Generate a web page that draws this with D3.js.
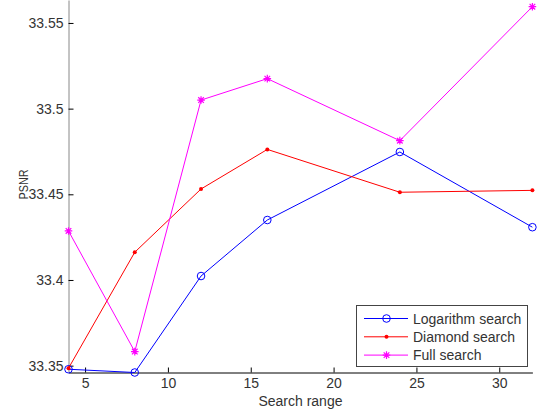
<!DOCTYPE html>
<html>
<head>
<meta charset="utf-8">
<script src="https://cdn.jsdelivr.net/npm/d3@7"></script>
<style>
  body { margin: 0; background: #fff; }
  svg { display: block; font-family: "Liberation Sans", Arial, sans-serif; }
</style>
</head>
<body>
<div id="chart"></div>
<script>
// search range (x) and PSNR per method
var ranges = [4, 8, 12, 16, 24, 32]
var logSearch = [33.3479, 33.3460, 33.4023, 33.4350, 33.4747, 33.4308]
var diamondSearch = [33.3485, 33.4162, 33.4531, 33.4762, 33.4512, 33.4523]
var fullSearch = [33.4286, 33.3582, 33.5050, 33.5175, 33.4813, 33.5595]
var xTicks = [5, 10, 15, 20, 25, 30]
var yTicks = [33.35, 33.4, 33.45, 33.5, 33.55]
var seriesNames = ["Logarithm search", "Diamond search", "Full search"]

var width = 539, height = 416
var margin = {left: 68.5, right: 6.6, top: 0, bottom: 43.5}

var svg = d3.select("#chart").append("svg")
  .attr("width", width)
  .attr("height", height)

var x = d3.scaleLinear().domain([4, 32]).range([margin.left, width - margin.right])
var y = d3.scaleLinear().domain([33.346, 33.5634]).range([height - margin.bottom, margin.top])

var series = [
  {name: seriesNames[0], values: logSearch, color: "#0000ff", marker: "circle"},
  {name: seriesNames[1], values: diamondSearch, color: "#ff0000", marker: "dot"},
  {name: seriesNames[2], values: fullSearch, color: "#ff00ff", marker: "star"}
]

function drawMarker(g, type, color, cx, cy) {
  if (type == "circle") {
    g.append("circle").attr("cx", cx).attr("cy", cy).attr("r", 3.8)
      .attr("fill", "none").attr("stroke", color).attr("stroke-width", 1)
  } else if (type == "dot") {
    g.append("circle").attr("cx", cx).attr("cy", cy).attr("r", 2)
      .attr("fill", color)
  } else {
    var s = 3.8, d = 2.8
    var p = "M" + (cx - s) + "," + cy + "H" + (cx + s) +
      "M" + cx + "," + (cy - s) + "V" + (cy + s) +
      "M" + (cx - d) + "," + (cy - d) + "L" + (cx + d) + "," + (cy + d) +
      "M" + (cx - d) + "," + (cy + d) + "L" + (cx + d) + "," + (cy - d)
    g.append("path").attr("d", p).attr("stroke", color).attr("stroke-width", 1.2).attr("fill", "none")
  }
}

// axes
var xAxis = svg.append("g")
  .attr("transform", "translate(0," + (height - margin.bottom) + ")")
  .call(d3.axisBottom(x).tickValues(xTicks).tickSizeInner(-5).tickSizeOuter(0).tickPadding(6)
    .tickFormat(d3.format("d")))
xAxis.select(".domain").attr("stroke", "#000")
xAxis.selectAll(".tick line").attr("stroke", "#000")
xAxis.selectAll("text").attr("font-size", 14).attr("fill", "#333").attr("font-family", null)

var yAxis = svg.append("g")
  .attr("transform", "translate(" + margin.left + ",0)")
  .call(d3.axisLeft(y).tickValues(yTicks).tickSizeInner(-5).tickSizeOuter(0).tickPadding(5)
    .tickFormat(function(d) { return String(+d.toFixed(2)) }))
yAxis.select(".domain").attr("stroke", "#888")
yAxis.selectAll(".tick line").attr("stroke", "#000")
yAxis.selectAll("text").attr("font-size", 14).attr("fill", "#333").attr("font-family", null)

svg.append("text")
  .attr("x", (x(4) + x(32)) / 2).attr("y", 406)
  .attr("text-anchor", "middle").attr("font-size", 14).attr("fill", "#333")
  .text("Search range")

svg.append("text")
  .attr("transform", "translate(27.5," + 184.5 + ") rotate(-90)")
  .attr("text-anchor", "middle").attr("font-size", 13).attr("fill", "#333")
  .attr("textLength", 30).attr("lengthAdjust", "spacingAndGlyphs")
  .text("PSNR")

// lines and markers
var line = d3.line().x(function(d, i) { return x(ranges[i]) }).y(function(d) { return y(d) })

series.forEach(function(s) {
  var g = svg.append("g")
  g.append("path").attr("d", line(s.values))
    .attr("fill", "none").attr("stroke", s.color).attr("stroke-width", 1)
  s.values.forEach(function(v, i) {
    drawMarker(g, s.marker, s.color, x(ranges[i]), y(v))
  })
})

// legend
var legend = svg.append("g")
legend.append("rect")
  .attr("x", 356.5).attr("y", 305.5).attr("width", 171).attr("height", 61)
  .attr("fill", "#fff").attr("stroke", "#444").attr("stroke-width", 1)
series.forEach(function(s, i) {
  var ly = 318.5 + i * 18.3
  legend.append("line").attr("x1", 364).attr("x2", 408).attr("y1", ly).attr("y2", ly)
    .attr("stroke", s.color).attr("stroke-width", 1)
  drawMarker(legend, s.marker, s.color, 386.5, ly)
  legend.append("text").attr("x", 413).attr("y", ly + 5)
    .attr("font-size", 14).attr("fill", "#333").text(s.name)
})
</script>
</body>
</html>
